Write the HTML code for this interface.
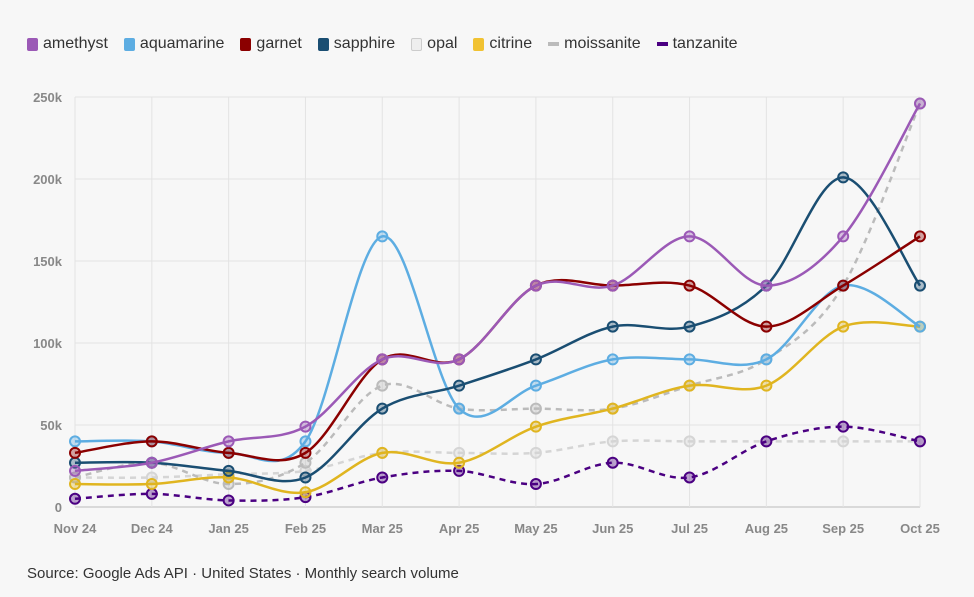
<!DOCTYPE html>
<html><head><meta charset="utf-8"><style>
body{margin:0;background:#f7f7f7;font-family:"Liberation Sans",sans-serif;}
#wrap{position:relative;width:974px;height:597px;overflow:hidden;}
.leg{position:absolute;top:35px;left:27px;display:flex;font-size:16px;color:#333;}
.li{display:flex;align-items:center;margin-right:16px;}
.sw{width:11px;height:13px;border-radius:2px;margin-right:5px;}
.ln{width:11px;height:4px;margin-right:5px;}
.src{position:absolute;left:27px;top:565px;font-size:15px;color:#333;}
</style></head><body><div id="wrap">
<div class="leg">
<div class="li"><span class="sw" style="background:#9b59b6"></span>amethyst</div>
<div class="li"><span class="sw" style="background:#5dade2"></span>aquamarine</div>
<div class="li"><span class="sw" style="background:#8b0000"></span>garnet</div>
<div class="li"><span class="sw" style="background:#1a4e72"></span>sapphire</div>
<div class="li"><span class="sw" style="background:#eee;border:1px solid #ccc;box-sizing:border-box"></span>opal</div>
<div class="li"><span class="sw" style="background:#f1c232"></span>citrine</div>
<div class="li"><span class="ln" style="background:#bbb"></span>moissanite</div>
<div class="li"><span class="ln" style="background:#4b0082"></span>tanzanite</div>
</div>
<svg id="svg" width="974" height="597" style="position:absolute;left:0;top:0"></svg>
<div class="src">Source: Google Ads API · United States · Monthly search volume</div>
</div>
<script>
const categories=["Nov 24","Dec 24","Jan 25","Feb 25","Mar 25","Apr 25","May 25","Jun 25","Jul 25","Aug 25","Sep 25","Oct 25"];
const yTicks=[0,50,100,150,200,250];
const yTickLabels=["0","50k","100k","150k","200k","250k"];
const amethyst=[22,27,40,49,90,90,135,135,165,135,165,246];
const aquamarine=[40,40,33,40,165,60,74,90,90,90,135,110];
const garnet=[33,40,33,33,90,90,135,135,135,110,135,165];
const sapphire=[27,27,22,18,60,74,90,110,110,135,201,135];
const opal=[18,18,20,22,33,33,33,40,40,40,40,40];
const citrine=[14,14,18,9,33,27,49,60,74,74,110,110];
const moissanite=[18,27,14,27,74,60,60,60,74,90,135,246];
const tanzanite=[5,8,4,6,18,22,14,27,18,40,49,40];
const L=75,R=920,T=97,B=507,YMAX=250;
const xs=i=>L+i*(R-L)/(categories.length-1);
const ys=v=>B-v/YMAX*(B-T);
const svg=document.getElementById('svg');const NS="http://www.w3.org/2000/svg";
function mk(t,a){const e=document.createElementNS(NS,t);for(const k in a)e.setAttribute(k,a[k]);svg.appendChild(e);return e;}
yTicks.forEach((t,i)=>{const g=mk('line',{x1:L,x2:R,y1:ys(t),y2:ys(t),stroke:i==0?'#bbb':'#e3e3e3','stroke-width':1});


const tx=mk('text',{x:62,y:ys(t)+5,'text-anchor':'end','font-size':13,fill:'#888','font-weight':'bold'});tx.textContent=yTickLabels[i];

});
categories.forEach((c,i)=>{const g=mk('line',{x1:xs(i),x2:xs(i),y1:T,y2:B,stroke:'#e3e3e3','stroke-width':1});


const tx=mk('text',{x:xs(i),y:533,'text-anchor':'middle','font-size':13,fill:'#888','font-weight':'bold'});tx.textContent=c;

});
function path(vals){const p=vals.map((v,i)=>[xs(i),ys(v)]);let d=`M${p[0][0]},${p[0][1]}`;
for(let i=0;i<p.length-1;i++){const p0=p[i-1]||p[i],p1=p[i],p2=p[i+1],p3=p[i+2]||p2;const k=1/6;
d+=` C${p1[0]+(p2[0]-p0[0])*k},${p1[1]+(p2[1]-p0[1])*k} ${p2[0]-(p3[0]-p1[0])*k},${p2[1]-(p3[1]-p1[1])*k} ${p2[0]},${p2[1]}`;}return d;}
const series=[["opal",opal,"#d5d5d5",true],["moissanite",moissanite,"#bbb",true],["tanzanite",tanzanite,"#4b0082",true],["citrine",citrine,"#e0b520",false],["aquamarine",aquamarine,"#5dade2",false],["sapphire",sapphire,"#1a4e72",false],["garnet",garnet,"#8b0000",false],["amethyst",amethyst,"#9b59b6",false]];
series.forEach(([n,v,c,dash])=>{const pa=mk('path',{d:path(v),fill:'none',stroke:c,'stroke-width':2.5,'stroke-dasharray':dash?'6,5':'none'});


v.forEach((val,i)=>{const ci=mk('circle',{cx:xs(i),cy:ys(val),r:5,fill:c,'fill-opacity':0.35,stroke:c,'stroke-width':2});

});});
</script></body></html>
